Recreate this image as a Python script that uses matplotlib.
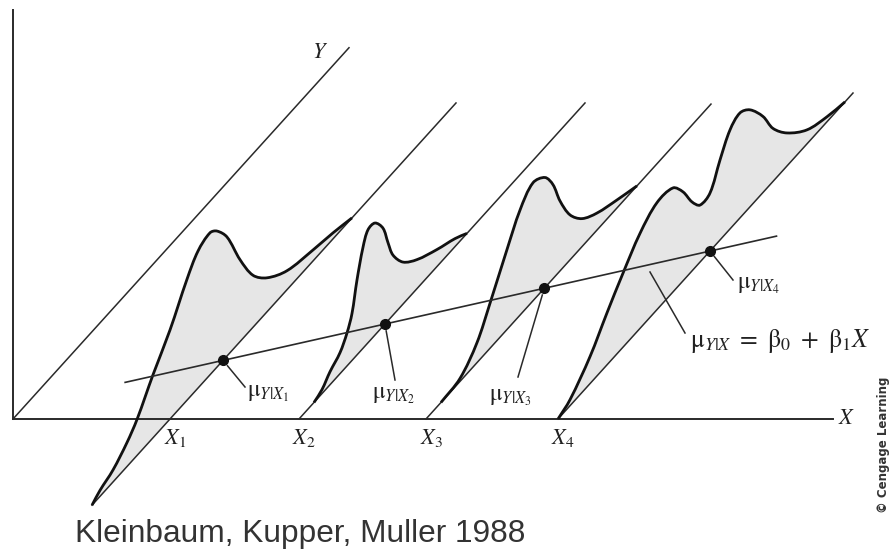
import numpy as np
import matplotlib.pyplot as plt
from matplotlib.path import Path
from matplotlib.patches import PathPatch

plt.rcParams['mathtext.fontset'] = 'stix'
plt.rcParams['font.family'] = ['Liberation Serif', 'DejaVu Serif']

# oblique projection: one unit along Y moves right by 1 and up by K
K = 1.105

# X positions of the four conditional distributions
x_pos = [157, 286, 413, 545]
x_names = ['$X_1$', '$X_2$', '$X_3$', '$X_4$']
# extent of each diagonal (along Y)
diag_start = [-78, 0, 0, 0]
diag_end = [286, 286, 285, 295]
y_axis_len = 336

# density profiles: position along Y (t) and height of the curve (f)
dens1_t = [-78, -70, -57, -43, -33, -17, 0, 17, 28, 40, 47, 57, 70, 83, 97, 117, 143, 163, 182]
dens1_f = [0, 6, 12, 24, 36, 63, 89, 121, 137, 142, 136, 119, 82, 52, 34, 19, 11, 6, 0]
dens2_t = [15, 23, 31, 41, 48, 53, 58, 64, 69, 76, 84, 89, 94, 104, 118, 138, 156, 168]
dens2_f = [0, 4, 13, 21, 33, 47, 75, 101, 113, 112, 98, 78, 60, 42, 29, 17, 8, 0]
dens3_t = [15, 34, 51, 64, 81, 94, 107, 119, 127, 134, 144, 156, 171, 191, 211]
dens3_f = [0, 3, 20, 45, 80, 105, 118, 110, 94, 70, 45, 28, 17, 8, 0]
dens4_t = [0, 12, 32, 49, 65, 82, 99, 115, 125, 134, 142, 152, 162, 172, 182, 192, 205, 215, 229, 249, 269, 287]
dens4_f = [0, 6, 27, 52, 74, 95, 107, 104, 89, 69, 57, 58, 80, 99, 105, 97, 76, 53, 33, 14, 5, 0]
densities = [(dens1_t, dens1_f), (dens2_t, dens2_f), (dens3_t, dens3_f), (dens4_t, dens4_f)]

# regression line mu = b0 + b1 * X
beta0, beta1 = 13.0, 0.255
reg_x = [79, 598]

LINE = '#2a2a2a'
FILL = '#e6e6e6'


def proj(X, t, f=0.0):
    t = np.asarray(t, dtype=float)
    f = np.asarray(f, dtype=float)
    return X + t, K * t + f


def smooth_verts(xs, ys):
    # chord-length Catmull-Rom through the read points, drawn as cubic Bezier
    pts = np.column_stack([xs, ys])
    n = len(pts)
    seg = np.hypot(*np.diff(pts, axis=0).T)
    tang = np.zeros_like(pts)
    for i in range(n):
        a = max(i - 1, 0)
        b = min(i + 1, n - 1)
        span = seg[a:b].sum()
        tang[i] = (pts[b] - pts[a]) / span
    verts = [pts[0]]
    codes = [Path.MOVETO]
    for i in range(n - 1):
        d = seg[i] / 3
        verts += [pts[i] + tang[i] * d, pts[i + 1] - tang[i + 1] * d, pts[i + 1]]
        codes += [Path.CURVE4] * 3
    return verts, codes


fig = plt.figure(figsize=(8.92, 5.49), dpi=100)
ax = fig.add_axes([0, 0, 1, 1])
ax.set_xlim(-13, 879)
ax.set_ylim(-130, 419)
ax.axis('off')

# axes of the diagram
ax.plot([0, 0], [0, 409], color=LINE, lw=1.4)
ax.plot([0, 820], [0, 0], color=LINE, lw=1.4)
yx, yy = proj(0, [0, y_axis_len])
ax.plot(yx, yy, color=LINE, lw=1.1)

for X, t0, t1 in zip(x_pos, diag_start, diag_end):
    dx, dy = proj(X, [t0, t1])
    ax.plot(dx, dy, color=LINE, lw=1.1, zorder=3)

for X, (t, f) in zip(x_pos, densities):
    cx, cy = proj(X, t, f)
    verts, codes = smooth_verts(cx, cy)
    fill_path = Path(verts + [verts[0]], codes + [Path.CLOSEPOLY])
    ax.add_patch(PathPatch(fill_path, facecolor=FILL, edgecolor='none', zorder=1))
    ax.add_patch(PathPatch(Path(verts, codes), facecolor='none', edgecolor='#111111',
                           lw=2.0, zorder=4))

# regression line and conditional means
reg_t = [beta0 + beta1 * x for x in reg_x]
rx = [x + t for x, t in zip(reg_x, reg_t)]
ry = [K * t for t in reg_t]
ax.plot(rx, ry, color=LINE, lw=1.2, zorder=5)
mu_t = [beta0 + beta1 * x for x in x_pos]
mx, my = proj(np.array(x_pos), mu_t)
ax.plot(mx, my, 'o', color='#111111', ms=7, zorder=6)

# labels
tk = dict(fontsize=16, ha='center', va='center', color='#222222')
for X, name in zip(x_pos, x_names):
    ax.text(X + 5, -19, name, **tk)
ax.text(834, 0, '$X$', **tk)
ax.text(307, 365, '$Y$', **tk)

mu_labels = [r'$\mathrm{\mu}_{Y|X_1}$', r'$\mathrm{\mu}_{Y|X_2}$',
             r'$\mathrm{\mu}_{Y|X_3}$', r'$\mathrm{\mu}_{Y|X_4}$']
mu_text_xy = [(234, 25), (359, 23), (476, 22), (724, 133)]
mu_lead_end = [(232, 32), (382, 39), (505, 42), (720, 139)]
for (mxi, myi), lab, (tx, ty), (ex, ey) in zip(zip(mx, my), mu_labels, mu_text_xy, mu_lead_end):
    ddx, ddy = ex - mxi, ey - myi
    d = np.hypot(ddx, ddy)
    ax.plot([mxi + ddx / d * 7, ex], [myi + ddy / d * 7, ey], color=LINE, lw=1.1, zorder=5)
    ax.text(tx, ty, lab, fontsize=17, ha='left', va='center', color='#222222')

ax.plot([637, 672], [147, 86], color=LINE, lw=1.1, zorder=5)
ax.text(677, 78, r'$\mathrm{\mu}_{Y|X}\ =\ \mathrm{\beta}_0\ +\ \mathrm{\beta}_1 X$',
        fontsize=18.5, ha='left', va='center', color='#222222')

ax.text(62, -123, 'Kleinbaum, Kupper, Muller 1988', fontsize=22.8, ha='left', va='baseline',
        color='#333333', family='Liberation Sans')
ax.text(870, -26, '© Cengage Learning', fontsize=8.5, rotation=90, ha='center', va='center',
        color='#333333', family=['Liberation Sans Narrow', 'DejaVu Sans'], fontweight='bold')

fig.savefig('out.png', dpi=100)
